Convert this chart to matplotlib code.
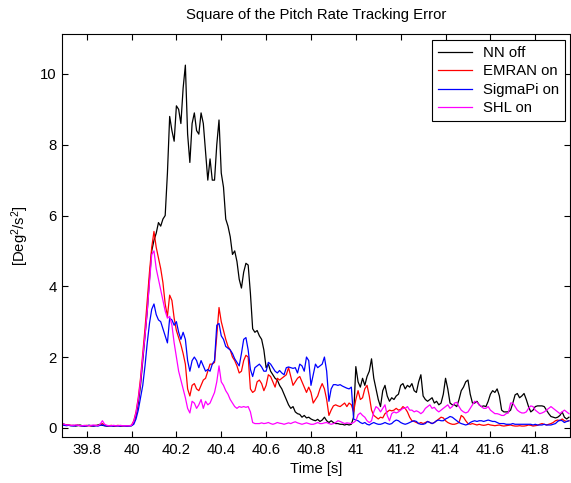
import numpy as np
import matplotlib
matplotlib.use('Agg')
import matplotlib.pyplot as plt

plt.rcParams['font.family'] = ['Liberation Sans', 'DejaVu Sans']
plt.rcParams['mathtext.fontset'] = 'custom'
plt.rcParams['mathtext.rm'] = 'Liberation Sans'
plt.rcParams['mathtext.default'] = 'regular'

t_start = 39.69
dt = 0.01

nn_off = [
    0.12, 0.1, 0.08, 0.07, 0.06, 0.07, 0.05, 0.06, 0.08, 0.06, 0.05,
    0.05, 0.07, 0.06, 0.05, 0.06, 0.08, 0.1, 0.07, 0.06, 0.05,
    0.05, 0.06, 0.05, 0.05, 0.06, 0.05, 0.05, 0.06, 0.05, 0.06,
    0.06, 0.15, 0.35, 0.7, 1.2, 1.9, 2.6, 3.3, 4.2, 5.0,
    5.3, 5.5, 5.8, 5.7, 5.9, 6.0, 7.2, 8.8, 8.4, 8.1,
    9.1, 9.0, 8.6, 9.6, 10.25, 8.3, 7.5, 8.6, 8.9, 8.4,
    8.3, 8.9, 8.6, 7.8, 7.0, 7.6, 7.0, 7.0, 8.0, 8.7,
    7.2, 6.8, 5.9, 5.7, 5.4, 4.9, 5.0, 4.7, 4.2, 3.95,
    4.4, 4.65, 4.6, 3.8, 2.8, 2.7, 2.75, 2.6, 2.5, 2.2,
    1.7, 1.8, 1.6, 1.5, 1.4, 1.35, 1.2, 1.1, 0.95, 0.8,
    0.65, 0.55, 0.6, 0.45, 0.4, 0.38, 0.3, 0.35, 0.28, 0.3,
    0.25, 0.22, 0.2, 0.24, 0.18, 0.22, 0.3, 0.2, 0.15, 0.2,
    0.15, 0.12, 0.12, 0.1, 0.1, 0.08, 0.1, 0.08, 0.1, 0.3,
    1.73, 1.3, 1.15, 1.4, 1.2, 1.45, 1.6, 1.95, 1.4, 1.1,
    0.8, 0.6, 1.05, 1.2, 0.9, 0.75, 0.85, 0.8, 0.9, 0.95,
    1.2, 1.25, 1.1, 1.2, 1.15, 1.25, 1.05, 1.0, 1.3, 1.5,
    0.9, 0.8, 0.75, 0.8, 0.85, 0.7, 0.75, 0.65, 0.7, 0.95,
    1.4, 1.1, 0.7, 0.65, 0.65, 0.6, 0.8, 1.05, 1.15, 1.3,
    1.35, 0.95, 0.7, 0.7, 0.75, 0.65, 0.6, 0.62, 0.6, 0.75,
    0.95, 1.05, 1.0, 1.1, 0.9, 0.5, 0.45, 0.45, 0.45, 0.5,
    0.7, 0.93, 0.97, 0.85, 0.9, 0.97, 0.8, 0.6, 0.45, 0.5,
    0.6, 0.62, 0.62, 0.62, 0.6, 0.5, 0.4, 0.32, 0.3, 0.28,
    0.3, 0.35, 0.45, 0.3, 0.25, 0.3,
]

emran_on = [
    0.1, 0.09, 0.08, 0.08, 0.07, 0.06, 0.07, 0.08, 0.06, 0.05, 0.06,
    0.07, 0.06, 0.05, 0.06, 0.07, 0.06, 0.09, 0.12, 0.07, 0.06,
    0.06, 0.07, 0.05, 0.06, 0.07, 0.05, 0.06, 0.06, 0.05, 0.06,
    0.07, 0.2, 0.45, 0.85, 1.4, 2.1, 2.8, 3.6, 4.4, 5.1,
    5.55, 5.1, 4.8, 4.5, 4.1, 3.5, 3.15, 3.75, 3.6, 3.1,
    2.75, 2.55, 2.35, 2.1, 1.8, 1.1, 0.9, 1.2, 1.25, 1.1,
    1.05, 1.2, 1.35, 1.4, 1.6, 1.8, 1.8, 1.85, 2.6, 3.4,
    3.0, 2.75, 2.5, 2.3, 2.2, 2.0, 1.9, 1.75, 1.55, 1.6,
    1.9, 2.05, 2.0, 1.1, 1.0, 1.05, 1.3, 1.35, 1.25, 1.05,
    1.2, 1.5, 1.45, 1.3, 1.15, 1.4, 1.35, 1.4, 1.45, 1.5,
    1.7, 1.45, 1.2, 1.3, 1.4, 1.45, 1.3, 1.15, 1.0, 1.15,
    1.0, 0.7, 0.8, 0.9, 1.1, 1.25, 1.1, 0.8, 0.35, 0.5,
    0.62, 0.65, 0.62, 0.6, 0.65, 0.7, 0.6, 0.7, 0.65, 0.45,
    0.8, 1.05, 0.8, 0.85, 1.1, 1.2, 0.9, 0.5, 0.35, 0.3,
    0.25, 0.3, 0.28, 0.4, 0.45, 0.5, 0.48, 0.5, 0.55, 0.5,
    0.52, 0.6, 0.55, 0.45, 0.3, 0.2, 0.18, 0.15, 0.12, 0.15,
    0.12, 0.15, 0.18, 0.15, 0.12, 0.15, 0.2, 0.25, 0.3, 0.28,
    0.2, 0.15, 0.12, 0.1, 0.1, 0.12, 0.15, 0.35, 0.3, 0.2,
    0.12, 0.1, 0.12, 0.1, 0.08, 0.1, 0.08, 0.07, 0.08, 0.1,
    0.08, 0.07, 0.06, 0.07, 0.08, 0.06, 0.05, 0.06, 0.07, 0.08,
    0.06, 0.05, 0.05, 0.06, 0.05, 0.05, 0.06, 0.08, 0.07, 0.05,
    0.06, 0.07, 0.1, 0.12, 0.1, 0.08, 0.1, 0.12, 0.15, 0.2,
    0.22, 0.2, 0.25, 0.2, 0.18, 0.2,
]

sigmapi_on = [
    0.08, 0.07, 0.06, 0.07, 0.06, 0.05, 0.06, 0.07, 0.06, 0.05, 0.05,
    0.06, 0.07, 0.06, 0.05, 0.06, 0.05, 0.07, 0.08, 0.06, 0.05,
    0.06, 0.05, 0.05, 0.06, 0.05, 0.05, 0.06, 0.05, 0.05, 0.05,
    0.06, 0.1, 0.25, 0.5, 0.85, 1.2, 1.75, 2.4, 2.95, 3.35,
    3.5, 3.2, 3.05, 3.0, 2.8, 2.6, 2.4, 3.1, 3.05, 2.9,
    3.0, 2.7, 2.5, 2.7, 2.5, 1.9, 1.6, 1.9, 2.0, 1.9,
    1.7, 1.9, 1.75, 1.6, 1.65, 1.6, 1.8, 1.9, 2.9, 2.95,
    2.6, 2.5, 2.3, 2.25, 2.2, 2.1, 1.95, 1.85, 1.75, 2.1,
    2.5, 2.55, 2.2, 1.65, 1.45, 1.7, 1.75, 1.8, 1.72, 1.6,
    1.6, 1.85, 1.8, 1.7, 1.6, 1.55, 1.62, 1.55, 1.5, 1.7,
    1.72, 1.7, 1.68, 1.7, 1.55, 1.8, 1.75, 1.6, 2.0, 1.9,
    1.2, 1.5, 1.8, 1.7, 1.75, 1.8, 2.0, 1.6, 0.75, 1.1,
    1.22, 1.22, 1.2, 1.22, 1.18, 1.15, 1.12, 1.1, 1.15, 0.25,
    0.22, 0.2, 0.15, 0.12, 0.15, 0.1, 0.08, 0.12, 0.15, 0.12,
    0.1, 0.1, 0.12, 0.15, 0.12, 0.1, 0.12, 0.18, 0.22, 0.2,
    0.15, 0.12, 0.1, 0.12, 0.15, 0.18, 0.2, 0.18, 0.12, 0.1,
    0.1, 0.12, 0.18, 0.15, 0.12, 0.15, 0.2, 0.22, 0.2, 0.2,
    0.25, 0.28, 0.32, 0.3, 0.25, 0.2, 0.15, 0.12, 0.1, 0.08,
    0.1, 0.15, 0.18, 0.2, 0.18, 0.2, 0.2, 0.18, 0.2, 0.22,
    0.2, 0.18, 0.18, 0.15, 0.12, 0.12, 0.12, 0.1, 0.1, 0.1,
    0.12, 0.1, 0.1, 0.1, 0.1, 0.1, 0.1, 0.1, 0.1, 0.08,
    0.1, 0.08, 0.08, 0.08, 0.1, 0.08, 0.08, 0.08, 0.1, 0.12,
    0.18, 0.22, 0.2, 0.15, 0.18, 0.2,
]

shl_on = [
    0.12, 0.1, 0.08, 0.08, 0.07, 0.07, 0.08, 0.07, 0.06, 0.06, 0.07,
    0.06, 0.06, 0.07, 0.08, 0.07, 0.06, 0.1, 0.2, 0.1, 0.07,
    0.06, 0.06, 0.07, 0.06, 0.06, 0.07, 0.06, 0.06, 0.06, 0.06,
    0.07, 0.18, 0.42, 0.8, 1.3, 2.0, 2.6, 3.3, 4.1, 4.9,
    5.0, 4.5, 4.2, 3.9, 3.6, 3.3, 3.1, 3.15, 2.9, 2.4,
    2.0, 1.6, 1.35, 1.1, 0.85, 0.55, 0.42, 0.75, 0.7, 0.55,
    0.65, 0.8, 0.55, 0.75, 0.65, 0.7, 0.85, 1.0, 1.3, 1.75,
    1.3, 1.2, 1.05, 0.95, 0.8, 0.7, 0.6, 0.55, 0.6, 0.58,
    0.6, 0.58, 0.6, 0.45, 0.15, 0.12, 0.12, 0.12, 0.14, 0.12,
    0.13, 0.15, 0.12, 0.1, 0.12, 0.15, 0.13, 0.12, 0.1, 0.12,
    0.14, 0.12, 0.15, 0.17, 0.14, 0.12, 0.1, 0.12, 0.14, 0.12,
    0.1, 0.1, 0.12, 0.15, 0.12, 0.12, 0.14, 0.15, 0.12, 0.1,
    0.12, 0.15, 0.2, 0.18, 0.15, 0.12, 0.14, 0.13, 0.12, 0.15,
    0.2, 0.37, 0.42, 0.35, 0.3, 0.2, 0.15, 0.2, 0.45, 0.6,
    0.55, 0.45, 0.55, 0.65, 0.35, 0.2, 0.4, 0.45, 0.42, 0.45,
    0.5, 0.55, 0.55, 0.6, 0.5, 0.5, 0.45, 0.48, 0.45, 0.4,
    0.45, 0.55, 0.6, 0.65, 0.55, 0.58, 0.5, 0.45, 0.5, 0.55,
    0.6, 0.65, 0.55, 0.6, 0.7, 0.72, 0.6, 0.5, 0.45, 0.42,
    0.45, 0.55, 0.65, 0.75, 0.72, 0.65, 0.6, 0.55, 0.55, 0.6,
    0.5, 0.45, 0.4, 0.4, 0.38, 0.35, 0.35, 0.4, 0.42, 0.7,
    0.7, 0.6, 0.5, 0.45, 0.42, 0.42, 0.45, 0.55, 0.62, 0.6,
    0.5, 0.45, 0.4, 0.42, 0.45, 0.5, 0.55, 0.6, 0.55, 0.5,
    0.45, 0.4, 0.45, 0.5, 0.45, 0.4,
]

labels = ['NN off', 'EMRAN on', 'SigmaPi on', 'SHL on']
colors = ['black', 'red', 'blue', 'magenta']
series = [nn_off, emran_on, sigmapi_on, shl_on]

xticks = [39.8, 40, 40.2, 40.4, 40.6, 40.8, 41, 41.2, 41.4, 41.6, 41.8]
xticklabels = ['39.8', '40', '40.2', '40.4', '40.6', '40.8', '41', '41.2', '41.4', '41.6', '41.8']
yticks = [0, 2, 4, 6, 8, 10]

fs = 10.7

fig = plt.figure(figsize=(5.71, 4.83), dpi=100)
ax = fig.add_axes([0.1086, 0.0952, 0.8897, 0.8344])

for vals, lab, col in zip(series, labels, colors):
    t = np.round(t_start + dt * np.arange(len(vals)), 2)
    ax.plot(t, vals, color=col, lw=0.9, label=lab)

ax.set_xlim(39.69, 41.955)
ax.set_ylim(-0.26, 11.13)
ax.set_xticks(xticks)
ax.set_xticklabels(xticklabels)
ax.set_yticks(yticks)
ax.tick_params(direction='in', top=True, right=True, length=4, width=0.8,
               labelsize=fs, pad=4)
for sp in ax.spines.values():
    sp.set_linewidth(0.8)

ax.set_title('Square of the Pitch Rate Tracking Error', fontsize=fs, pad=11)
ax.set_xlabel('Time [s]', fontsize=fs, labelpad=4)
ax.set_ylabel('[Deg$^2$/s$^2$]', fontsize=fs, labelpad=6)

leg = ax.legend(loc='upper right', bbox_to_anchor=(0.990, 0.985), borderaxespad=0,
                fontsize=fs, fancybox=False, framealpha=1, edgecolor='black',
                handlelength=2.3, handletextpad=0.7, labelspacing=0.3, borderpad=0.4)
leg.get_frame().set_linewidth(0.8)
for line in leg.get_lines():
    line.set_linewidth(0.9)

fig.savefig('out.png', dpi=100)
